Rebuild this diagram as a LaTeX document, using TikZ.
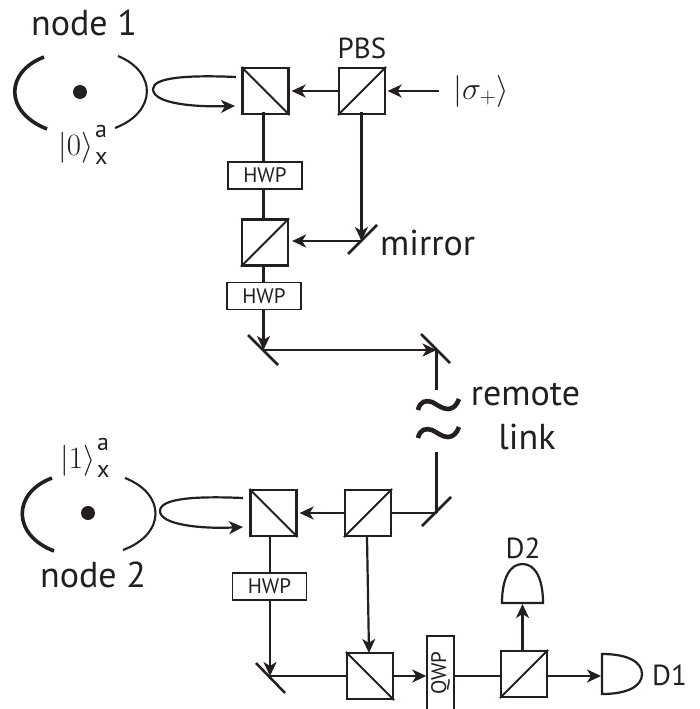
\RequirePackage{fix-cm}
\documentclass[tikz,border=0pt]{standalone}
\usepackage[no-math]{fontspec}
\setmainfont{PT Sans}
\usetikzlibrary{arrows.meta,calc}
\definecolor{ink}{HTML}{231F20}
\newcommand{\fsz}[1]{\fontsize{#1}{#1}\selectfont}
\newcommand{\ketlab}[1]{\fsz{31}$|#1\rangle$\kern2pt\rlap{\raisebox{18pt}{\fsz{24}a}}\raisebox{-9pt}{\fsz{24}x}}
\tikzset{
  every node/.style={text=ink},
  cube/.style={draw=ink,line width=2.2pt,minimum width=46pt,minimum height=46pt,inner sep=0pt,rectangle},
  plate/.style={draw=ink,line width=1.5pt,minimum width=74pt,minimum height=27pt,inner sep=0pt,rectangle,font=\fsz{21}},
  beam/.style={draw=ink,line width=2.2pt},
  ray/.style={beam,-{Stealth[length=14pt,width=13pt,inset=4pt]}},
  diag/.style={draw=ink,line width=2pt},
  turn/.style={draw=ink,line width=2.5pt},
  bigtext/.style={font=\fsz{36},inner sep=0pt},
  midtext/.style={font=\fsz{29},inner sep=0pt},
  atom/.style={circle,fill=ink,minimum size=14pt,inner sep=0pt},
  squiggle/.style={draw=ink,line width=4.6pt},
}
\begin{document}
\begin{tikzpicture}[x=1pt,y=-1pt]
\useasboundingbox (0,0) rectangle (699,709);

% cubes
\node[cube] (bsa) at (265.5,91) {};
\node[cube] (pbsa) at (362,91) {};
\node[cube] (bsb) at (265,242.5) {};
\node[cube] (bsc) at (273.5,513) {};
\node[cube] (pbsb) at (368,513) {};
\node[cube] (bsd) at (370,676) {};
\node[cube] (bse) at (524,674) {};
\draw[diag] (bsa.north west) -- (bsa.south east);
\draw[diag] (pbsa.south west) -- (pbsa.north east);
\draw[diag] (bsb.south west) -- (bsb.north east);
\draw[diag] (bsc.north west) -- (bsc.south east);
\draw[diag] (pbsb.south west) -- (pbsb.north east);
\draw[diag] (bsd.north west) -- (bsd.south east);
\draw[diag] (bse.south west) -- (bse.north east);

% wave plates
\node[plate] (hwpa) at (265,175.5) {HWP};
\node[plate] (hwpb) at (264,296) {HWP};
\node[plate] (hwpc) at (269.5,586.5) {HWP};
\node[plate,minimum width=27pt,minimum height=74pt] (qwp) at (440.5,673) {\rotatebox{90}{QWP}};

% mirrors
\coordinate (ma) at (361.5,241);
\coordinate (mb) at (263.5,350);
\coordinate (mc) at (436.5,350);
\coordinate (md) at (436.5,513);
\coordinate (me) at (270,676);
\draw[turn] (348,254) -- (377,225);
\draw[turn] (248,335) -- (278,365);
\draw[turn] (421,334) -- (450,363);
\draw[turn] (422,526) -- (451,497);
\draw[turn] (256,663) -- (285,693);

% remote-link break points
\coordinate (gapa) at (436.5,390);
\coordinate (gapb) at (436.5,452);
\draw[squiggle] (418,410) .. controls (420,401) and (426,400) .. (432,402) .. controls (438,405) and (442,409) .. (448,409) .. controls (453,409) and (457,405) .. (459,399);
\draw[squiggle] (418,438) .. controls (420,429) and (426,428) .. (432,430) .. controls (438,433) and (442,437) .. (448,437) .. controls (453,437) and (457,433) .. (459,427);

% free ends
\coordinate (input) at (439,91);
\coordinate (loopa) at (236,77);
\coordinate (loopb) at (235,106);
\coordinate (loopc) at (243,498);
\coordinate (loopd) at (243,527);

% connectors
\draw[ray] (input) -- ([xshift=1.5pt]pbsa.east);
\draw[ray] (pbsa.west) -- ([xshift=2pt]bsa.east);
\draw[beam] ([yshift=3pt]bsa.south -| mb) -- (hwpa.north -| mb);
\draw[beam] (hwpa.south -| mb) -- (bsb.north -| mb);
\draw[ray] ([yshift=3pt]pbsa.south -| ma) -- (ma);
\draw[ray] (ma) -- ([xshift=3pt]bsb.east |- ma);
\draw[beam] (bsb.south -| mb) -- (hwpb.north -| mb);
\draw[ray] (hwpb.south -| mb) -- (mb);
\draw[ray] (mb) -- (mc);
\draw[beam] (mc) -- (gapa);
\draw[beam] (gapb) -- (md);
\draw[beam] (md) -- (pbsb.east);
\draw[ray] (pbsb.west) -- ([xshift=2pt]bsc.east);
\draw[beam] (bsc.south -| me) -- (hwpc.north -| me);
\draw[ray] (hwpc.south -| me) -- (me);
\draw[beam] (me) -- (bsd.west);
\draw[ray] ([xshift=-1pt]pbsb.south) -- ([xshift=-1pt,yshift=-1pt]bsd.north);
\draw[ray] (bsd.east) -- (qwp.west |- bsd.east);
\draw[beam] (qwp.east |- bsd.east) -- (bse.west |- bsd.east);

% cavity node 1
\draw[draw=ink,line width=3.6pt] (44,57) .. controls (5,72) and (4,112) .. (47,129);
\draw[draw=ink,line width=2.1pt] (118,56) .. controls (157,72) and (157,112) .. (115,128);
\node[atom] (atoma) at (80,92) {};
\draw[ray] (loopa) .. controls (190,75) and (153,77) .. (153,89) .. controls (153,104) and (195,107) .. (loopb);

% cavity node 2
\draw[draw=ink,line width=3.6pt] (52,478) .. controls (12,493) and (12,535) .. (54,551);
\draw[draw=ink,line width=2.1pt] (125,478) .. controls (166,494) and (166,534) .. (123,550);
\node[atom] (atomb) at (88,513) {};
\draw[ray] (loopc) .. controls (197,496) and (160,498) .. (160,511) .. controls (160,525) and (202,529) .. (loopd);

% detectors
\draw[beam] (502,603) .. controls (502,578) and (510,564) .. (522.5,564) .. controls (535,564) and (543,578) .. (543,603) -- cycle;
\draw[beam] (602,654) .. controls (628,654) and (642,662) .. (642,674) .. controls (642,686) and (628,694) .. (602,694) -- cycle;
\coordinate (dtwoin) at (522.5,604);
\coordinate (donein) at (601,676);
\draw[ray] (bse.north -| dtwoin) -- (dtwoin);
\draw[ray] (bse.east |- donein) -- (donein);

% labels
\node[bigtext,anchor=base] (lnodea) at (84,36) {node 1};
\node[inner sep=0pt,anchor=base west] (kzero) at (58,155) {\ketlab{0}};
\node[inner sep=0pt,anchor=base west] (kone) at (60,468) {\ketlab{1}};
\node[bigtext,anchor=base] (lnodeb) at (93,587) {node 2};
\node[midtext] (lpbs) at (362,48) {PBS};
\node[inner sep=0pt,font=\fsz{32},anchor=base] (ksigma) at (481,99) {$|\sigma_+\rangle$};
\node[bigtext,anchor=base west] (lmirror) at (380,255) {mirror};
\node[bigtext,anchor=base] (lremote) at (525.5,405) {remote};
\node[bigtext,anchor=base] (llink) at (527,449) {link};
\node[midtext] (ldtwo) at (523,548) {D2};
\node[midtext,anchor=west] (ldone) at (652,675) {D1};
\end{tikzpicture}
\end{document}
